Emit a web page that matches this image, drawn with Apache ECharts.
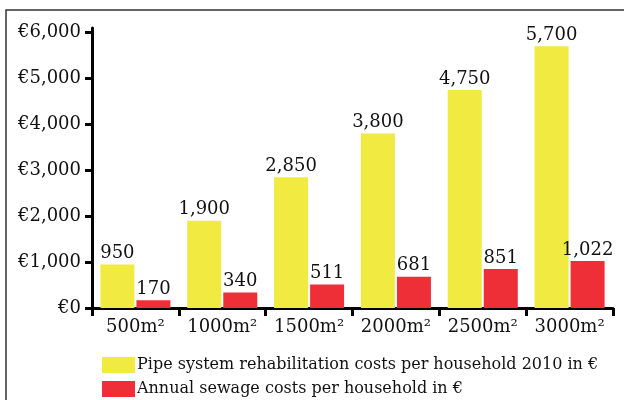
<!DOCTYPE html>
<html>
<head>
<meta charset="utf-8">
<script src="https://cdn.jsdelivr.net/npm/echarts@6/dist/echarts.min.js"></script>
<style>
  html, body { margin: 0; padding: 0; background: #fff; }
  #main { width: 624px; height: 400px; }
</style>
</head>
<body>
<div id="main"></div>
<script>
var categories = ['500m²', '1000m²', '1500m²', '2000m²', '2500m²', '3000m²'];
var pipeCosts = [950, 1900, 2850, 3800, 4750, 5700];
var sewageCosts = [170, 340, 511, 681, 851, 1022];
var yTicks = [0, 1000, 2000, 3000, 4000, 5000, 6000];

var FONT = 'DejaVu Serif';

function fmt(v) {
    return String(v).replace(/\B(?=(\d{3})+(?!\d))/g, ',');
}

var chartDom = document.getElementById('main');
var myChart = echarts.init(chartDom);
var option;

option = {
    animation: false,
    textStyle: { fontFamily: FONT },
    grid: { left: 92, right: 11, top: 28, bottom: 92 },
    graphic: [
        {
            type: 'polyline',
            shape: { points: [[6, 400], [6, 10], [624, 10]] },
            style: { stroke: '#333', lineWidth: 1.5, fill: null }
        }
    ],
    legend: {
        orient: 'vertical',
        left: 102,
        top: 357,
        padding: 0,
        icon: 'rect',
        itemWidth: 33,
        itemHeight: 16,
        itemGap: 8,
        itemStyle: { borderWidth: 0 },
        textStyle: { fontFamily: FONT, fontSize: 16, color: '#111', padding: [0, 0, 0, -3] },
        data: [
            'Pipe system rehabilitation costs per household 2010 in €',
            'Annual sewage costs per household in €'
        ]
    },
    xAxis: {
        type: 'category',
        data: categories,
        axisLine: { lineStyle: { color: '#000', width: 3 } },
        axisTick: { show: true, length: 8, lineStyle: { color: '#000', width: 3 } },
        axisLabel: { interval: 0, fontFamily: FONT, fontSize: 18, color: '#111', margin: 10 }
    },
    yAxis: {
        type: 'value',
        min: 0,
        max: 6100,
        interval: 1000,
        splitLine: { show: false },
        axisLine: { show: true, lineStyle: { color: '#000', width: 3 } },
        axisTick: { show: true, length: 7, customValues: yTicks, lineStyle: { color: '#000', width: 3 } },
        axisLabel: {
            fontFamily: FONT, fontSize: 18, color: '#111', margin: 11,
            customValues: yTicks,
            formatter: function (v) { return '€' + fmt(v); }
        }
    },
    series: [
        {
            name: 'Pipe system rehabilitation costs per household 2010 in €',
            type: 'bar',
            data: pipeCosts,
            barWidth: 34,
            barGap: '6%',
            itemStyle: { color: '#f0ea41' },
            label: {
                show: true, position: 'top', distance: 2,
                fontFamily: FONT, fontSize: 18, color: '#111',
                formatter: function (p) { return fmt(p.value); }
            }
        },
        {
            name: 'Annual sewage costs per household in €',
            type: 'bar',
            data: sewageCosts,
            barWidth: 34,
            itemStyle: { color: '#ef2f37' },
            label: {
                show: true, position: 'top', distance: 2,
                fontFamily: FONT, fontSize: 18, color: '#111',
                formatter: function (p) { return fmt(p.value); }
            }
        }
    ]
};

option && myChart.setOption(option);
</script>
</body>
</html>
